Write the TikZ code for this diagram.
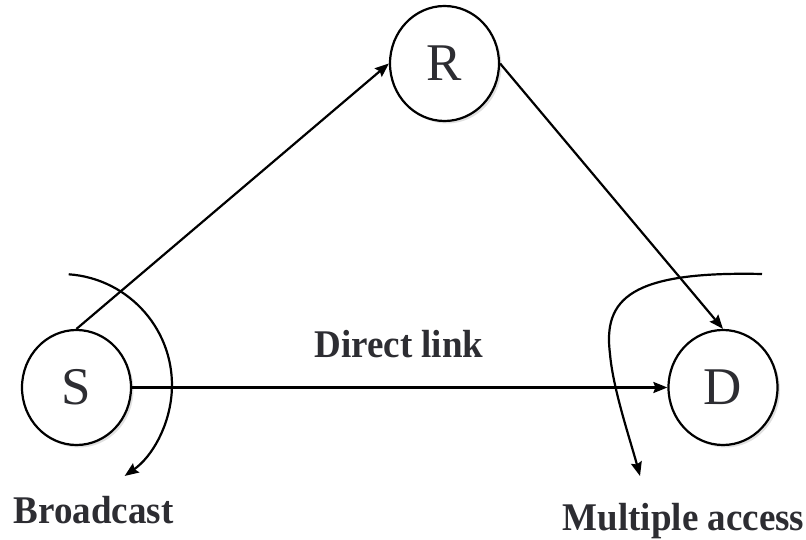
\documentclass[tikz,border=0pt]{standalone}
\usepackage{fontspec}
\setmainfont{Liberation Serif}
\usetikzlibrary{arrows.meta,shapes.geometric,shadows}
\definecolor{ink}{RGB}{45,45,50}
\begin{document}
\begin{tikzpicture}[x=1pt,y=1pt,
  station/.style={ellipse, draw=black, line width=2.2pt, fill=white,
    minimum width=109pt, minimum height=115pt, inner sep=0pt,
    font=\fontsize{53}{53}\selectfont, text=ink,
    drop shadow={shadow xshift=2.5pt, shadow yshift=-2.5pt, fill=black!12, opacity=1}},
  link/.style={line width=2.2pt, -{Stealth[length=14pt,width=11pt,inset=2pt]}},
  tag/.style={font=\bfseries\fontsize{37}{37}\selectfont, text=ink, inner sep=0pt, anchor=base}]
\useasboundingbox (0,0) rectangle (806,539);

% stations
\node[station] (S) at (76.5,151.5) {S};
\node[station] (R) at (444.5,475.5) {R};
\node[station] (D) at (723,151.5) {D};

% links
\draw[link] (S.north) -- (R.west);
\draw[link] (R.east) -- (D.north);
\draw[link] (S.east) -- (D.west);

% broadcast sweep around the source
\coordinate (bc0) at (68.7,264.7);
\draw[link] (bc0) arc[start angle=86, end angle=-55, radius=111];

% multiple-access sweep in front of the destination
\coordinate (ma0) at (762,265);
\coordinate (ma1) at (610,185);
\coordinate (ma2) at (640,63);
\draw[link] (ma0) .. controls (630,268) and (603,240) .. (ma1)
                  .. controls (613,150) and (630,100) .. (ma2);

% labels
\node[tag] (direct) at (399,182) {\scalebox{1}[1.06]{Direct link}};
\node[tag] (bcast) at (93.5,16) {\scalebox{1}[1.06]{Broadcast}};
\node[tag] (macc) at (683.5,9) {\scalebox{1}[1.06]{Multiple access}};
\end{tikzpicture}
\end{document}
